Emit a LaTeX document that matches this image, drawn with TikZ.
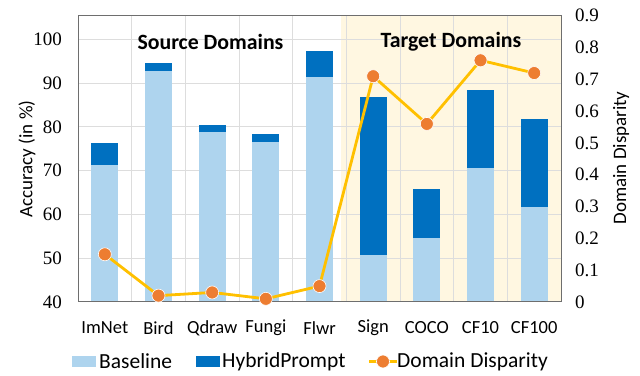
\documentclass[tikz,border=0pt]{standalone}
\usepackage{fontspec}
\setmainfont{Liberation Serif}
\newfontfamily\calib{Carlito}

\definecolor{basec}{HTML}{AED4EE}
\definecolor{hybc}{HTML}{0070C0}
\definecolor{dispc}{HTML}{FFC000}
\definecolor{dotc}{HTML}{ED7D31}
\definecolor{shadec}{HTML}{FFF7E1}
\definecolor{gridc}{HTML}{DDDDDD}
\definecolor{framec}{HTML}{6E6E6E}

\tikzset{
  gridline/.style={gridc, line width=0.9pt},
  framebox/.style={framec, line width=1pt},
  ticklab/.style={font=\fontsize{19}{21}\selectfont, inner sep=0pt},
  catlab/.style={font=\calib\fontsize{18.5}{20}\selectfont, inner sep=0pt},
  axtitle/.style={font=\calib\fontsize{19}{21}\selectfont, inner sep=0pt},
  grouplab/.style={font=\calib\bfseries\fontsize{21.8}{23}\selectfont, inner sep=0pt},
  leglab/.style={font=\calib\fontsize{21.5}{23}\selectfont, inner sep=0pt, anchor=west},
  displine/.style={dispc, line width=2.8pt, line join=round},
  dispdot/.style={circle, fill=dotc, draw=white, line width=0.6pt, minimum size=13pt, inner sep=0pt},
}

\begin{document}
\begin{tikzpicture}[x=1pt,y=1pt]
\useasboundingbox (0,0) rectangle (640,375);

% plot area: x 78..561, y 73..359 ; accuracy 40 at y=73, 4.38 per unit
\def\accy#1{73+(#1-40)*4.38}
\def\dy#1{73+(#1)*318}

% target-domain background
\fill[shadec] (341,73) rectangle (561,359);

% grid
\foreach \v in {50,60,...,100}
  \draw[gridline] (78,{\accy{\v}}) -- (561,{\accy{\v}});
\foreach \k in {1,...,8}
  \draw[gridline] ({78+\k*53.67},73) -- ({78+\k*53.67},359);

% bars, category labels and disparity points
\foreach \i/\lab/\b/\h/\d in {0/ImNet/71.3/76.2/0.15, 1/Bird/92.7/94.5/0.02,
    2/Qdraw/78.9/80.5/0.03, 3/Fungi/76.6/78.3/0.01, 4/Flwr/91.4/97.3/0.05,
    5/Sign/50.7/86.7/0.71, 6/COCO/54.7/65.9/0.56, 7/CF10/70.7/88.3/0.76,
    8/CF100/61.8/81.8/0.72}{
  \pgfmathsetmacro\cx{78+(\i+0.5)*53.67}
  \fill[hybc] ({\cx-13.4},73) rectangle ({\cx+13.4},{\accy{\h}});
  \fill[basec] ({\cx-13.4},73) rectangle ({\cx+13.4},{\accy{\b}});
  \node[catlab] (cat\i) at (\cx,47) {\lab};
  \coordinate (p\i) at (\cx,{\dy{\d}});
}

% plot frame
\draw[framebox] (78,73) rectangle (561,359);

% disparity series
\draw[displine] (p0) -- (p1) -- (p2) -- (p3) -- (p4) -- (p5) -- (p6) -- (p7) -- (p8);
\foreach \i in {0,...,8}
  \node[dispdot] (dot\i) at (p\i) {};

% left axis ticks
\foreach \v in {40,50,...,100}
  \node[ticklab, anchor=east] (l\v) at (62,{\accy{\v}}) {\v};
% right axis ticks
\foreach \t/\s in {0/0,1/0.1,2/0.2,3/0.3,4/0.4,5/0.5,6/0.6,7/0.7,8/0.8,9/0.9}
  \node[ticklab, anchor=west] (r\t) at (575,{\dy{\t/10}}) {\s};

% axis titles
\node[axtitle, rotate=90] (ytitle) at (27,216) {Accuracy (in \%)};
\node[axtitle, rotate=90] (y2title) at (621,217) {Domain Disparity};

% group labels
\node[grouplab] (src) at (210.5,333) {Source Domains};
\node[grouplab] (tgt) at (451,333) {Target Domains};

% legend
\fill[basec] (72,8) rectangle (96,19);
\node[leglab] (lg1) at (99,13.5) {Baseline};
\fill[hybc] (196,8) rectangle (220,19);
\node[leglab] (lg2) at (222,13.5) {HybridPrompt};
\coordinate (la) at (369,13.5);
\coordinate (lb) at (397,13.5);
\draw[displine] (la) -- (lb);
\node[dispdot] (lgdot) at (383,13.5) {};
\node[leglab] (lg3) at (397,13.5) {Domain Disparity};
\end{tikzpicture}
\end{document}
